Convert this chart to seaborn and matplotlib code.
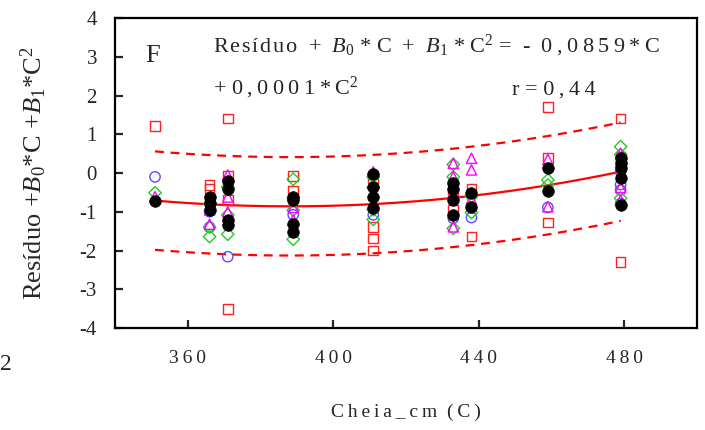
import numpy as np
import pandas as pd
import matplotlib
matplotlib.use("Agg")
import matplotlib.pyplot as plt
import seaborn as sns

# ---------------- data ----------------
red_sq_x = [351, 366, 366, 366, 371, 371, 371, 371, 389, 389, 411, 411, 411, 411,
            433, 433, 438, 438, 459, 459, 459, 479, 479, 479]
red_sq_y = [1.22, -0.31, -0.42, -0.70, 1.41, -0.08, -0.70, -3.51, -0.08, -0.46, -0.14, -1.39, -1.69, -2.00,
            -0.57, -0.96, -0.40, -1.64, 1.71, 0.38, -1.28, 1.41, 0.42, -2.29]

blue_ci_x = [351, 366, 366, 371, 389, 389, 411, 433, 438, 459, 479, 479, 479, 479]
blue_ci_y = [-0.10, -1.00, -1.40, -2.16, -0.70, -1.08, -1.08, -1.17, -1.15, -0.89, 0.03, -0.30, -0.44, -0.79]

green_di_x = [351, 366, 366, 366, 371, 371, 371, 389, 389, 389, 389, 411, 411, 411, 411,
              433, 433, 433, 438, 438, 459, 459, 479, 479, 479]
green_di_y = [-0.51, -0.80, -1.40, -1.64, -0.36, -1.08, -1.58, -0.16, -0.65, -0.96, -1.71, -0.10, -0.38, -0.95, -1.20,
              0.22, -0.10, -1.43, -0.61, -1.02, -0.18, -0.31, 0.68, 0.47, -0.65]

mag_tr_x = [351, 366, 366, 371, 371, 371, 389, 389, 411, 433, 433, 433, 433, 438, 438, 438,
            459, 459, 479, 479, 479, 479]
mag_tr_y = [-0.61, -0.95, -1.32, -0.05, -0.62, -1.00, -0.89, -1.21, 0.03, 0.25, -0.10, -0.51, -1.39, 0.38, 0.08, -0.68,
            0.35, -0.87, 0.51, 0.29, -0.37, -0.70]

black_x = [351, 366, 366, 366, 371, 371, 371, 371, 389, 389, 389, 389, 411, 411, 411, 411,
           433, 433, 433, 433, 438, 438, 459, 459, 479, 479, 479, 479, 479]
black_y = [-0.72, -0.61, -0.78, -0.96, -0.21, -0.40, -1.21, -1.34, -0.61, -0.69, -1.32, -1.52, -0.03, -0.35, -0.61, -0.91,
           -0.27, -0.40, -0.70, -1.08, -0.51, -0.89, 0.12, -0.46, 0.38, 0.25, 0.12, -0.14, -0.83]

# fitted quadratic (vertex form) and prediction band half width
fit_a, fit_h, fit_k = 0.000108, 388.0, -0.86
band_half = 1.27
fit_range = (351, 479)

x_ticks = [360, 400, 440, 480]
y_ticks = [-4, -3, -2, -1, 0, 1, 2, 3, 4]

# ---------------- styling ----------------
sns.set_theme(style="white")
plt.rcParams["font.family"] = ["Liberation Serif", "DejaVu Serif"]
plt.rcParams["mathtext.fontset"] = "custom"
plt.rcParams["mathtext.rm"] = "Liberation Serif"
plt.rcParams["mathtext.it"] = "Liberation Serif:italic"

RED = "#ff2020"
BLUE = "#5a4cff"
GREEN = "#22cc22"
MAG = "#ff00ff"


def sp(s, gap="\u2009"):
    return gap.join(s)


def hs(s):
    return sp(s, "\u200a")


fig = plt.figure(figsize=(7.05, 4.30), dpi=100)
ax = fig.add_axes([115 / 705, 1 - 328 / 430, (697 - 115) / 705, (328 - 18) / 430])

# curves
cx = np.linspace(fit_range[0], fit_range[1], 200)
cy = fit_a * (cx - fit_h) ** 2 + fit_k
curves = pd.DataFrame({"C": cx, "fit": cy, "up": cy + band_half, "lo": cy - band_half})
sns.lineplot(data=curves, x="C", y="fit", ax=ax, color="red", lw=1.6)
sns.lineplot(data=curves, x="C", y="up", ax=ax, color="red", lw=1.6, dashes=False,
             linestyle=(0, (4, 3)))
sns.lineplot(data=curves, x="C", y="lo", ax=ax, color="red", lw=1.6, dashes=False,
             linestyle=(0, (4, 3)))

# points
series = [
    (red_sq_x, red_sq_y, "s", RED, 48, True),
    (blue_ci_x, blue_ci_y, "o", BLUE, 55, True),
    (green_di_x, green_di_y, "D", GREEN, 40, True),
    (mag_tr_x, mag_tr_y, "^", MAG, 55, True),
    (black_x, black_y, "o", "black", 70, False),
]
for xs, ys, mk, col, sz, hollow in series:
    df = pd.DataFrame({"C": xs, "v": ys})
    if hollow:
        sns.scatterplot(data=df, x="C", y="v", ax=ax, marker=mk, s=sz,
                        facecolors="none", edgecolor=col, linewidth=1.0, zorder=3)
    else:
        sns.scatterplot(data=df, x="C", y="v", ax=ax, marker=mk, s=sz,
                        color=col, edgecolor=col, linewidth=0.5, zorder=4)

ax.set_xlim(340, 500)
ax.set_ylim(-4, 4)
ax.set_xticks(x_ticks)
ax.set_yticks(y_ticks)
ax.set_xticklabels([sp(str(t)) for t in x_ticks], fontsize=14)
ax.set_yticklabels([str(t) for t in y_ticks], fontsize=15)
ax.tick_params(axis="y", direction="in", length=6, width=1.6, pad=13, left=True, right=False)
ax.tick_params(axis="x", direction="in", length=6, width=1.6, pad=16, bottom=True, top=False)
for s in ax.spines.values():
    s.set_visible(True)
    s.set_color("black")
    s.set_linewidth(1.6)
ax.grid(False)

ax.set_xlabel(sp("Cheia_cm") + "  " + sp("(C)"), fontsize=14, labelpad=26)
ax.set_ylabel("Resíduo +$B_0$*C +$B_1$*C$^2$", fontsize=19, labelpad=22)

# annotations (figure pixel coords)
def ftxt(px, py, s, **kw):
    fig.text(px / 705, 1 - py / 430, s, **kw)

ftxt(145, 62, "F", fontsize=19, va="baseline")
eq1 = (hs("Resíduo") + "  +  $B_0$ * C  +  $B_1$ * C$^2$ =  -  " + sp("0,0859*C"))
ftxt(213, 52, eq1, fontsize=16, va="baseline")
ftxt(213, 94, "+ " + sp("0,0001*C") + "$^2$", fontsize=16, va="baseline")
ftxt(512, 95, "r = " + sp("0,44"), fontsize=16, va="baseline")
ftxt(0, 370, "2", fontsize=17, va="baseline")

fig.savefig("out.png", dpi=100)
